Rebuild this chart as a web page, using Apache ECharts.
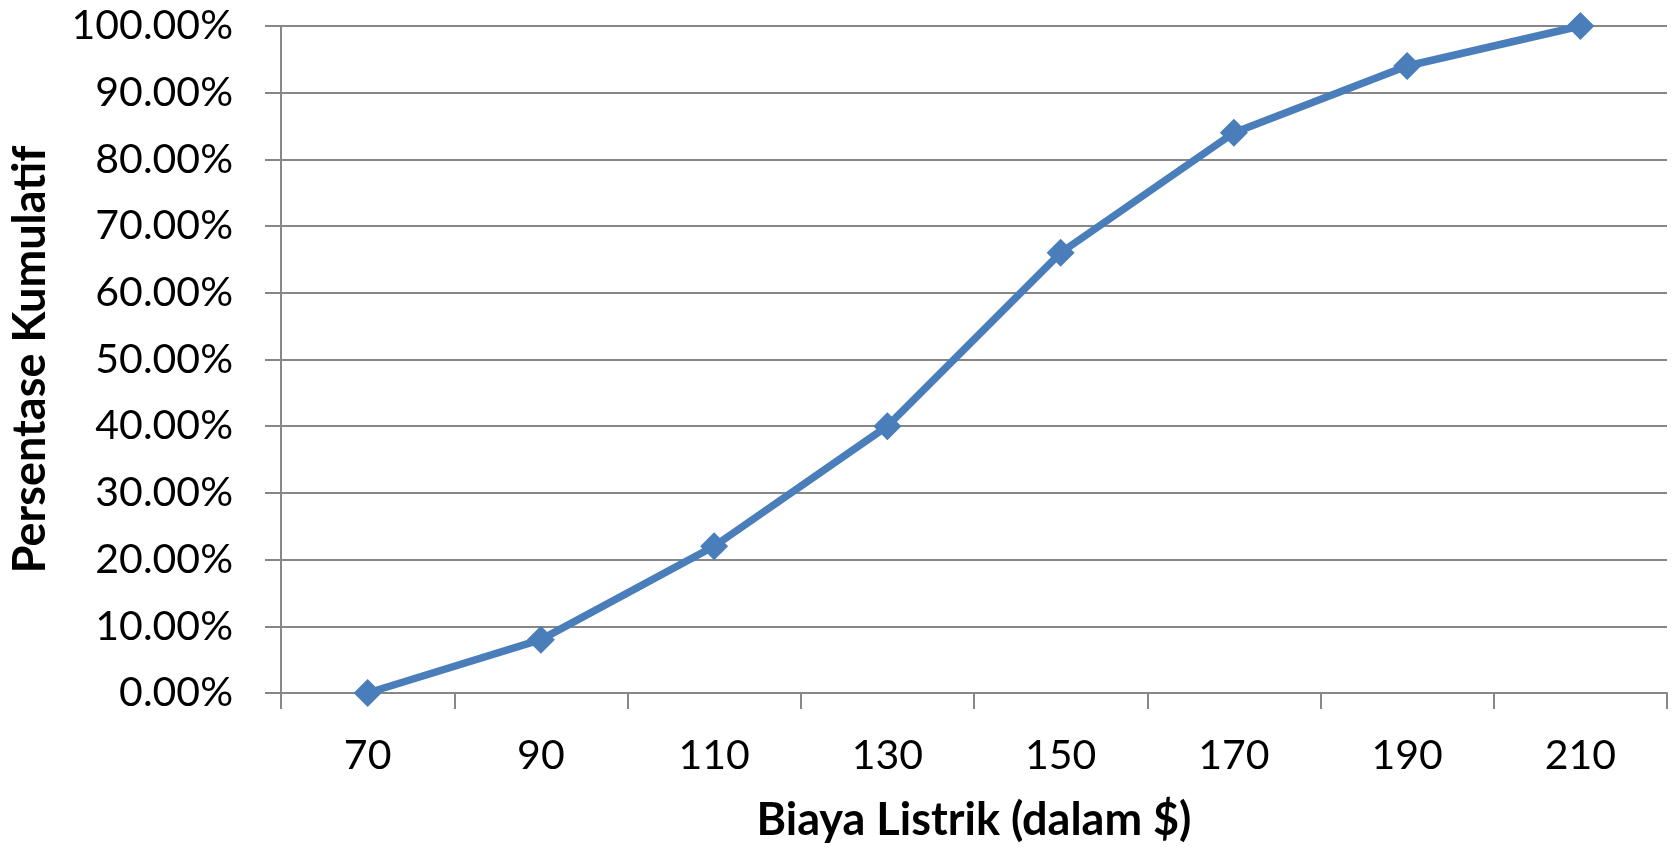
<!DOCTYPE html>
<html>
<head>
<meta charset="utf-8">
<script src="https://cdn.jsdelivr.net/npm/echarts@6/dist/echarts.min.js"></script>
<style>
  html, body { margin: 0; padding: 0; background: #fff; }
  #chart { width: 1675px; height: 847px; }
</style>
</head>
<body>
<div id="chart"></div>
<script>
// Biaya listrik (kelas) dan persentase kumulatif
const categories = ['70', '90', '110', '130', '150', '170', '190', '210'];
const cumulativePct = [0, 8, 22, 40, 66, 84, 94, 100];
const yTicks = { min: 0, max: 100, interval: 10 };

const chart = echarts.init(document.getElementById('chart'), null, { renderer: 'canvas' });
const FONT = 'Lato, "Open Sans", sans-serif';
const AXIS_GREY = '#878787';

chart.setOption({
  animation: false,
  backgroundColor: '#ffffff',
  grid: { left: 281, right: 8, top: 26, bottom: 154, containLabel: false, outerBoundsMode: 'none' },
  xAxis: {
    type: 'category',
    data: categories,
    boundaryGap: true,
    name: 'Biaya Listrik (dalam $)',
    nameLocation: 'middle',
    nameGap: 105,
    nameTextStyle: { fontFamily: FONT, fontWeight: 'bold', fontSize: 45, color: '#000' },
    axisLine: { lineStyle: { color: AXIS_GREY, width: 2 } },
    axisTick: { show: true, length: 16, alignWithLabel: false, lineStyle: { color: AXIS_GREY, width: 2 } },
    axisLabel: { fontFamily: FONT, fontSize: 41, color: '#000', margin: 42 },
    splitLine: { show: false }
  },
  yAxis: {
    type: 'value',
    min: yTicks.min,
    max: yTicks.max,
    interval: yTicks.interval,
    name: 'Persentase Kumulatif',
    nameLocation: 'middle',
    nameGap: 228,
    nameRotate: 90,
    nameTextStyle: { fontFamily: FONT, fontWeight: 'bold', fontSize: 45, color: '#000' },
    axisLine: { show: true, lineStyle: { color: AXIS_GREY, width: 2 } },
    axisTick: { show: true, length: 16, lineStyle: { color: AXIS_GREY, width: 2 } },
    axisLabel: {
      fontFamily: FONT, fontSize: 41, color: '#000', margin: 48,
      formatter: v => v.toFixed(2) + '%'
    },
    splitLine: { show: true, lineStyle: { color: AXIS_GREY, width: 2 } }
  },
  series: [{
    type: 'line',
    data: cumulativePct,
    symbol: 'diamond',
    symbolSize: 28,
    itemStyle: { color: '#4a7ebb' },
    lineStyle: { color: '#4a7ebb', width: 7.5 },
    z: 3
  }]
});
</script>
</body>
</html>
